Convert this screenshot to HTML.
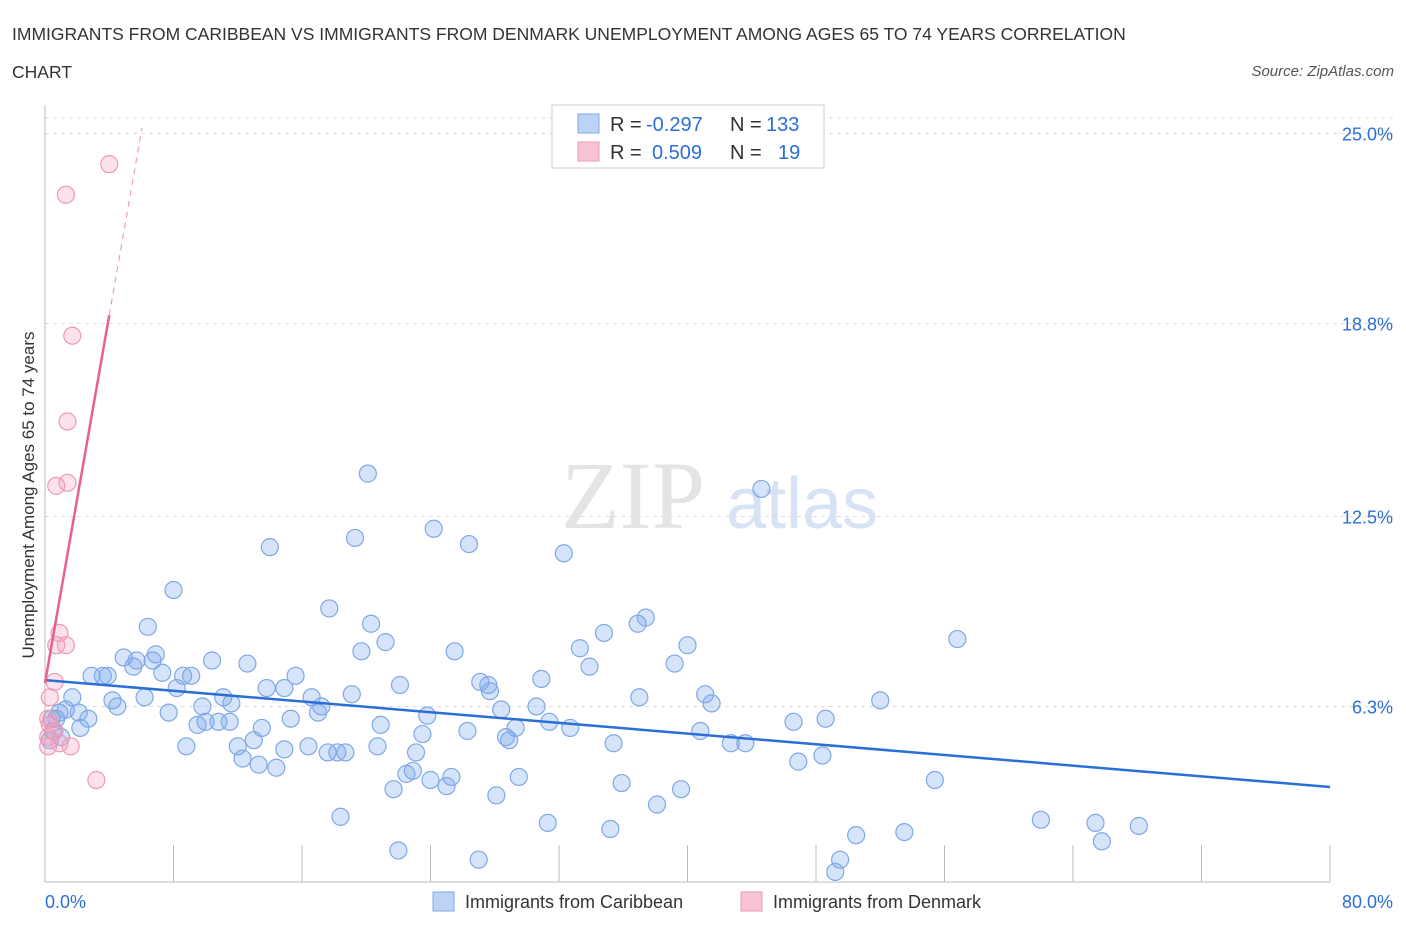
<!DOCTYPE html>
<html><head><meta charset="utf-8"><style>
body{margin:0;background:#fff;font-family:"Liberation Sans",sans-serif;}
</style></head><body>
<svg width="1406" height="930" viewBox="0 0 1406 930" xmlns="http://www.w3.org/2000/svg" id="chart" style="font-family:'Liberation Sans',sans-serif">
<text x="12" y="40" font-size="17.5" fill="#333">IMMIGRANTS FROM CARIBBEAN VS IMMIGRANTS FROM DENMARK UNEMPLOYMENT AMONG AGES 65 TO 74 YEARS CORRELATION</text>
<text x="12" y="78" font-size="17.5" fill="#333">CHART</text>
<text x="1394" y="76" font-size="15" fill="#555" font-style="italic" text-anchor="end">Source: ZipAtlas.com</text>
<g>
<text x="633" y="528" font-size="96" fill="#e4e4e4" text-anchor="middle" font-family="Liberation Serif,serif">ZIP</text>
<text x="802" y="528" font-size="72" fill="#d5e3f5" text-anchor="middle">atlas</text>
</g>
<g id="grid"></g>
<g id="axes"></g>
<g id="marks"></g>
<text x="34" y="495" font-size="17" fill="#333" text-anchor="middle" transform="rotate(-90 34 495)">Unemployment Among Ages 65 to 74 years</text>
<g>
<rect x="552" y="105" width="272" height="63" fill="#fff" stroke="#ccc"/>
<rect x="578" y="114" width="21" height="19" fill="#bcd3f5" stroke="#7fa8e6"/>
<rect x="578" y="142" width="21" height="19" fill="#f8c4d4" stroke="#ee9ab5"/>
<text y="131" font-size="20" fill="#333"><tspan x="610">R =</tspan><tspan x="646" fill="#2b6fd6">-0.297</tspan><tspan x="730">N =</tspan><tspan x="766" fill="#2b6fd6">133</tspan></text>
<text y="159" font-size="20" fill="#333"><tspan x="610">R =</tspan><tspan x="652" fill="#2b6fd6">0.509</tspan><tspan x="730">N =</tspan><tspan x="778" fill="#2b6fd6">19</tspan></text>
</g>
<g>
<rect x="433" y="892" width="21" height="19" fill="#bcd3f5" stroke="#7fa8e6"/>
<text x="465" y="908" font-size="18" fill="#333">Immigrants from Caribbean</text>
<rect x="741" y="892" width="21" height="19" fill="#f8c4d4" stroke="#ee9ab5"/>
<text x="773" y="908" font-size="18" fill="#333">Immigrants from Denmark</text>
</g>
</svg>
<script>
const yTicks=[6.3,12.5,18.8,25.0];
const yTickLabels=["6.3%","12.5%","18.8%","25.0%"];
const xTickLabels=["0.0%","80.0%"];
const blueX=[20.1,24.2,14.0,19.3,26.4,32.3,44.6,8.0,17.7,6.4,20.3,21.2,19.7,25.5,34.8,36.9,37.4,40.0,33.3,33.9,39.2,56.8,10.4,12.6,15.6,6.9,4.9,5.7,6.7,5.5,2.9,3.6,3.9,7.3,8.6,9.1,8.2,13.8,14.9,16.6,19.1,22.1,27.1,27.6,27.7,30.9,37.0,41.1,41.5,52.0,1.7,4.2,4.5,6.2,9.8,11.1,11.6,7.7,10.0,10.8,11.5,9.5,13.5,15.3,17.0,17.2,20.9,23.8,28.4,30.6,31.4,29.3,32.7,26.3,40.8,46.6,48.6,1.3,2.1,2.7,0.9,0.7,2.2,12.0,13.0,14.9,16.4,17.6,18.2,18.7,20.7,23.1,23.5,28.7,28.9,35.4,42.7,43.6,8.8,12.3,13.3,14.4,22.5,22.9,25.3,24.0,25.0,21.7,29.5,28.1,35.9,39.6,38.1,55.4,46.9,48.4,18.4,31.3,35.2,22.0,27.0,50.5,53.5,62.0,65.4,68.1,65.8,49.5,49.2,0.3,0.4,0.5,1.0];
const blueY=[13.9,12.1,11.5,11.8,11.6,11.3,13.4,10.1,9.5,8.9,9.0,8.4,8.1,8.1,8.7,9.0,9.2,8.3,8.2,7.6,7.7,8.5,7.8,7.7,7.3,8.0,7.9,7.8,7.8,7.6,7.3,7.3,7.3,7.4,7.3,7.3,6.9,6.9,6.9,6.6,6.7,7.0,7.1,7.0,6.8,7.2,6.6,6.7,6.4,6.5,6.6,6.5,6.3,6.6,6.3,6.6,6.4,6.1,5.8,5.8,5.8,5.7,5.6,5.9,6.1,6.3,5.7,6.0,6.2,6.3,5.8,5.6,5.6,5.5,5.5,5.8,5.9,6.2,6.1,5.9,6.1,5.9,5.6,5.0,5.2,4.9,5.0,4.8,4.8,4.8,5.0,4.8,5.4,5.3,5.2,5.1,5.1,5.1,5.0,4.6,4.4,4.3,4.1,4.2,4.0,3.9,3.7,3.6,4.0,3.4,3.8,3.6,3.1,3.9,4.5,4.7,2.7,2.5,2.3,1.6,1.3,2.1,2.2,2.6,2.5,2.4,1.9,1.3,0.9,5.2,5.9,5.5,5.3];
const pinkX=[4.0,1.3,1.7,1.4,1.4,0.7,0.9,0.7,1.3,0.6,0.3,0.2,0.3,0.6,0.2,0.9,1.6,3.2,0.2];
const pinkY=[24.0,23.0,18.4,15.6,13.6,13.5,8.7,8.3,8.3,7.1,6.6,5.9,5.7,5.5,5.3,5.1,5.0,3.9,5.0];
const blueFit=[7.16,3.67];
const pinkFit=[7.07,3.0];
const NS="http://www.w3.org/2000/svg";
const X0=45,X1=1330,Y0=899.5,PXY=30.64;
function sx(v){return X0+v*(X1-X0)/80;}
function sy(v){return Y0-v*PXY;}
function mk(tag,attrs,parent){const e=document.createElementNS(NS,tag);for(const k in attrs)e.setAttribute(k,attrs[k]);parent.appendChild(e);return e;}
const grid=document.getElementById('grid'),axes=document.getElementById('axes'),marks=document.getElementById('marks');
yTicks.forEach((t,i)=>{
 const l=mk('line',{x1:X0,x2:1395,y1:sy(t),y2:sy(t),stroke:'#ddd','stroke-dasharray':'4,4'},grid);
 
 
 const tx=mk('text',{x:1393,y:sy(t)+7,'font-size':18,fill:'#2b6fd6','text-anchor':'end'},axes);
 tx.textContent=yTickLabels[i];
 
 
});
const tl=mk('line',{x1:X0,x2:1395,y1:118,y2:118,stroke:'#ddd','stroke-dasharray':'4,4'},grid);


const ya=mk('line',{x1:X0,x2:X0,y1:105,y2:882,stroke:'#bbb'},axes);


const xa=mk('line',{x1:X0,x2:X1,y1:882,y2:882,stroke:'#bbb'},axes);


for(let v=0;v<=80;v+=8){
 const t=mk('line',{x1:sx(v),x2:sx(v),y1:845,y2:882,stroke:'#bbb'},axes);
 
 
}
const xl0=mk('text',{x:45,y:908,'font-size':18,fill:'#2b6fd6'},axes);
xl0.textContent=xTickLabels[0];


const xl1=mk('text',{x:1393,y:908,'font-size':18,fill:'#2b6fd6','text-anchor':'end'},axes);
xl1.textContent=xTickLabels[1];


blueX.forEach((x,i)=>{
 const c=mk('circle',{cx:sx(x),cy:sy(blueY[i]),r:8.5,fill:'rgba(120,165,235,0.3)',stroke:'#7fa8e6','stroke-width':1.2},marks);
 
 
});
pinkX.forEach((x,i)=>{
 const c=mk('circle',{cx:sx(x),cy:sy(pinkY[i]),r:8.5,fill:'rgba(245,160,190,0.3)',stroke:'#ee9ab5','stroke-width':1.2},marks);
 
 
});
const bl=mk('line',{x1:sx(0),y1:sy(blueFit[0]),x2:sx(80),y2:sy(blueFit[1]),stroke:'#2b6fd6','stroke-width':2.5},marks);


const pEnd=4.0,pTop=6.04;
const pl=mk('line',{x1:sx(0),y1:sy(pinkFit[0]),x2:sx(pEnd),y2:sy(pinkFit[0]+pinkFit[1]*pEnd),stroke:'#e8608e','stroke-width':2.5},marks);


const pd=mk('line',{x1:sx(pEnd),y1:sy(pinkFit[0]+pinkFit[1]*pEnd),x2:sx(pTop),y2:sy(pinkFit[0]+pinkFit[1]*pTop),stroke:'#e8a0b8','stroke-width':1.2,'stroke-dasharray':'6,5'},marks);


</script>
</body></html>
